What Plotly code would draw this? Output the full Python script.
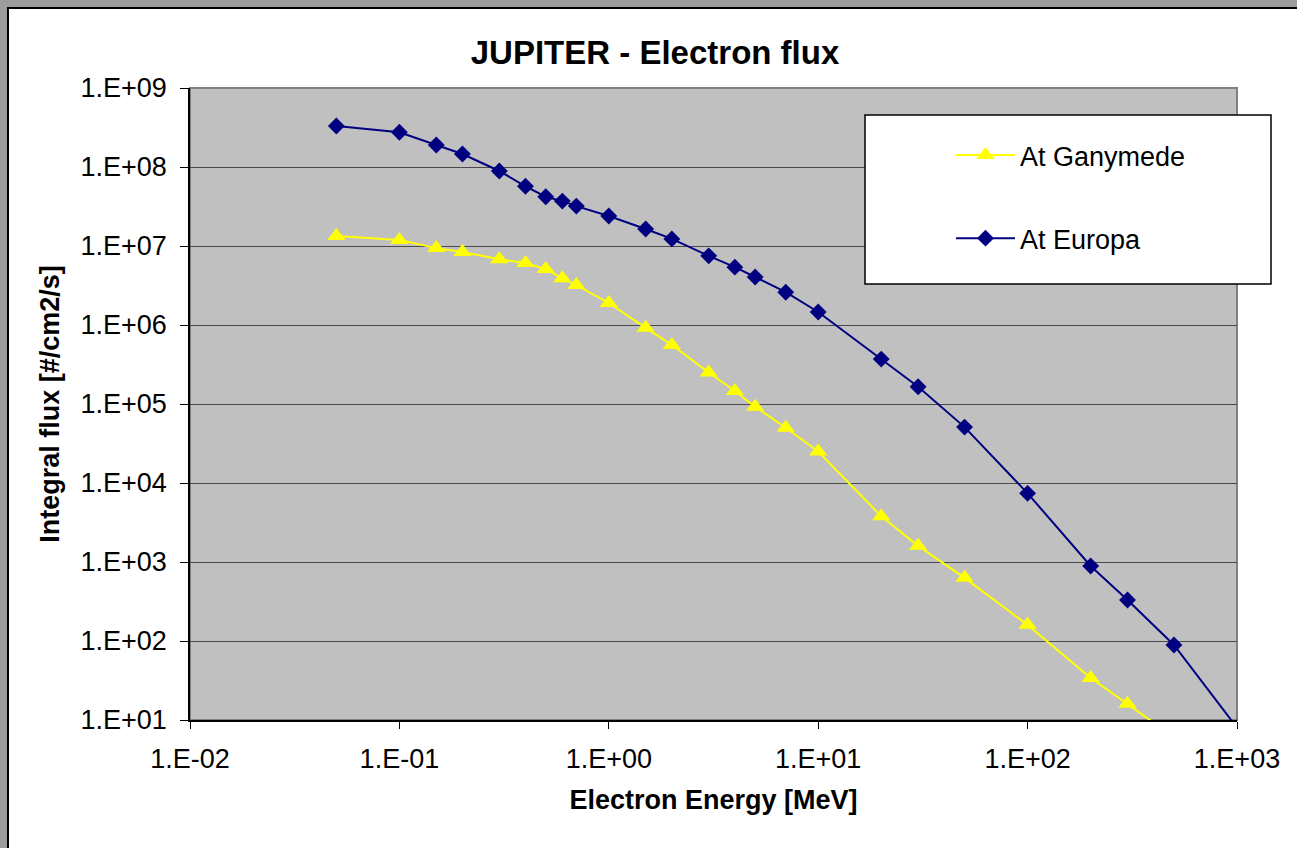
import plotly.graph_objects as go

# ---------------- data ----------------
energy_mev = [0.05, 0.1, 0.15, 0.2, 0.3, 0.4, 0.5, 0.6, 0.7, 1, 1.5, 2, 3, 4, 5, 7,
              10, 20, 30, 50, 100, 200, 300, 500, 1000]
flux_europa = [3.3e8, 2.75e8, 1.9e8, 1.46e8, 8.9e7, 5.7e7, 4.2e7, 3.7e7, 3.2e7, 2.4e7,
               1.64e7, 1.23e7, 7.5e6, 5.4e6, 4.05e6, 2.6e6, 1.46e6, 3.7e5, 1.65e5,
               5.1e4, 7.4e3, 890, 330, 89, 8]
flux_ganymede = [1.34e7, 1.19e7, 9.4e6, 8.4e6, 6.8e6, 6.1e6, 5.1e6, 3.9e6, 3.2e6, 1.9e6,
                 9.2e5, 5.6e5, 2.5e5, 1.46e5, 9.2e4, 5.0e4, 2.5e4, 3.8e3, 1.6e3, 630,
                 160, 34, 16, 6]

x_tickvals = [1e-2, 1e-1, 1e0, 1e1, 1e2, 1e3]
x_ticktext = ["1.E-02", "1.E-01", "1.E+00", "1.E+01", "1.E+02", "1.E+03"]
y_tickvals = [1e1, 1e2, 1e3, 1e4, 1e5, 1e6, 1e7, 1e8, 1e9]
y_ticktext = ["1.E+01", "1.E+02", "1.E+03", "1.E+04", "1.E+05", "1.E+06",
              "1.E+07", "1.E+08", "1.E+09"]

FONT = "Liberation Sans, Arial, sans-serif"

# ---------------- geometry ----------------
W, H = 1297, 848
L, R, T, B = 190, 1237, 88, 720
pw, ph = R - L, B - T


def px2x(p):
    return (p - L) / pw


def px2y(p):
    return (B - p) / ph


fig = go.Figure()

fig.add_trace(go.Scatter(
    x=energy_mev[:len(flux_ganymede)], y=flux_ganymede, name="At Ganymede",
    mode="lines+markers", legendgroup="g1",
    line=dict(color="#FFFF00", width=2),
    marker=dict(symbol="triangle-up", size=16, color="#FFFF00"),
))
fig.add_trace(go.Scatter(
    x=energy_mev, y=flux_europa, name="At Europa",
    mode="lines+markers", legendgroup="g2",
    line=dict(color="#000080", width=2),
    marker=dict(symbol="diamond", size=13, color="#000080"),
))

shapes = [
    # white chart area with black frame
    dict(type="rect", xref="paper", yref="paper", layer="below",
         x0=px2x(8), x1=px2x(1400), y0=px2y(950), y1=px2y(8),
         fillcolor="white", line=dict(color="black", width=2)),
    # grey plot area
    dict(type="rect", xref="paper", yref="paper", layer="below",
         x0=0, x1=1, y0=0, y1=1,
         fillcolor="#C0C0C0", line=dict(color="#808080", width=2)),
    # legend box
    dict(type="rect", xref="paper", yref="paper", layer="above",
         x0=px2x(865), x1=px2x(1271), y0=px2y(284), y1=px2y(115),
         fillcolor="white", line=dict(color="black", width=1.5)),
]

fig.update_layout(
    width=W, height=H,
    margin=dict(l=L, r=W - R, t=T, b=H - B, autoexpand=False),
    paper_bgcolor="#9C9C9C",
    plot_bgcolor="rgba(0,0,0,0)",
    font=dict(family=FONT, size=27, color="black"),
    title=dict(text="<b>JUPITER - Electron flux</b>", x=655 / W, y=1 - 52 / H,
               xanchor="center", yanchor="middle",
               font=dict(family=FONT, size=33, color="black")),
    shapes=shapes,
    showlegend=True,
    legend=dict(x=px2x(951), y=px2y(131), xanchor="left", yanchor="top",
                bgcolor="rgba(0,0,0,0)", borderwidth=0,
                font=dict(family=FONT, size=27, color="black"),
                traceorder="grouped", tracegroupgap=45, itemwidth=59),
)

fig.update_xaxes(
    type="log", range=[-2, 3],
    tickvals=x_tickvals, ticktext=x_ticktext,
    ticks="outside", ticklen=7, tickcolor="black", tickwidth=1,
    ticklabelstandoff=7,
    showline=True, linecolor="black", linewidth=1.5,
    showgrid=False, zeroline=False,
    tickfont=dict(family=FONT, size=27),
    title=dict(text="<b>Electron Energy [MeV]</b>", standoff=17,
               font=dict(family=FONT, size=27)),
)
fig.update_yaxes(
    type="log", range=[1, 9],
    tickvals=y_tickvals, ticktext=y_ticktext,
    ticks="outside", ticklen=8, tickcolor="black", tickwidth=1,
    ticklabelstandoff=8,
    showline=True, linecolor="black", linewidth=1.5,
    showgrid=True, gridcolor="#4A4A4A", gridwidth=1, zeroline=False,
    tickfont=dict(family=FONT, size=27),
    title=dict(text="<b>Integral flux [#/cm2/s]</b>", standoff=13,
               font=dict(family=FONT, size=27)),
)

fig.write_html(
    "out.html",
    config={"displayModeBar": False},
    post_script="document.body.style.margin='0px';"
                "document.body.style.background='#9C9C9C';",
)
